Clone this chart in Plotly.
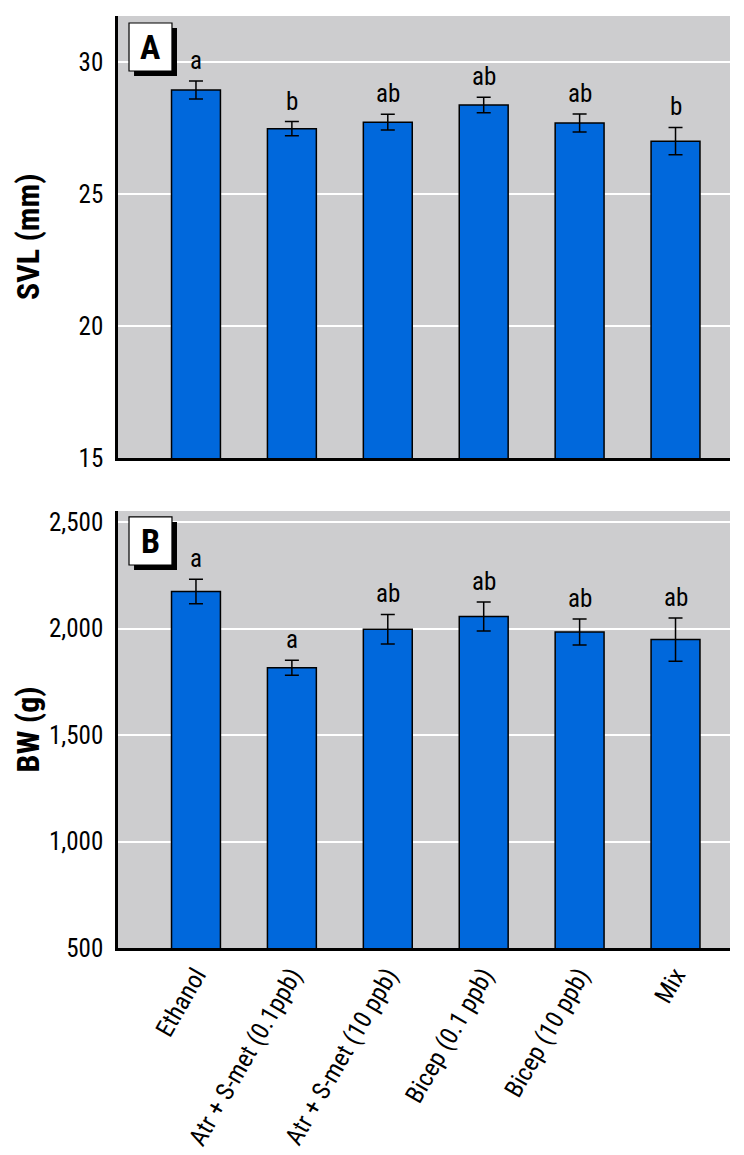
import plotly.graph_objects as go

categories = ["Ethanol", "Atr + S-met (0.1ppb)", "Atr + S-met (10 ppb)",
              "Bicep (0.1 ppb)", "Bicep (10 ppb)", "Mix"]
svl_mean = [28.94, 27.47, 27.72, 28.37, 27.69, 27.00]
svl_err = [0.34, 0.27, 0.30, 0.29, 0.34, 0.52]
svl_letters = ["a", "b", "ab", "ab", "ab", "b"]
bw_mean = [2174, 1816, 1997, 2057, 1984, 1948]
bw_err = [58, 35, 69, 68, 61, 101]
bw_letters = ["a", "a", "ab", "ab", "ab", "ab"]
svl_ticks = [15, 20, 25, 30]
bw_ticks = [500, 1000, 1500, 2000, 2500]
bw_ticktext = ["500", "1,000", "1,500", "2,000", "2,500"]

FONT = "Roboto Condensed, Open Sans Condensed, sans-serif"
BLUE = "#0068DC"
GREY = "#CDCDCF"

fig = go.Figure()
fig.add_trace(go.Bar(x=categories, y=svl_mean, xaxis="x", yaxis="y",
                     width=0.51, marker=dict(color=BLUE, line=dict(color="black", width=1.5)),
                     error_y=dict(type="data", array=svl_err, color="black", thickness=1.5, width=7),
                     showlegend=False))
fig.add_trace(go.Bar(x=categories, y=bw_mean, xaxis="x2", yaxis="y2",
                     width=0.51, marker=dict(color=BLUE, line=dict(color="black", width=1.5)),
                     error_y=dict(type="data", array=bw_err, color="black", thickness=1.5, width=7),
                     showlegend=False))

annotations = []
for c, m, e, t in zip(categories, svl_mean, svl_err, svl_letters):
    annotations.append(dict(x=c, y=m + e, xref="x", yref="y", text=t, showarrow=False,
                            yanchor="bottom", yshift=4, font=dict(family=FONT, size=25, color="black")))
for c, m, e, t in zip(categories, bw_mean, bw_err, bw_letters):
    annotations.append(dict(x=c, y=m + e, xref="x2", yref="y2", text=t, showarrow=False,
                            yanchor="bottom", yshift=4, font=dict(family=FONT, size=25, color="black")))

# axis titles
annotations.append(dict(x=-0.147, y=0.5, xref="paper", yref="y domain", text="<b>SVL (mm)</b>",
                        textangle=-90, showarrow=False, xanchor="center", yanchor="middle",
                        font=dict(family=FONT, size=32, color="black")))
annotations.append(dict(x=-0.147, y=0.5, xref="paper", yref="y2 domain", text="<b>BW (g)</b>",
                        textangle=-90, showarrow=False, xanchor="center", yanchor="middle",
                        font=dict(family=FONT, size=32, color="black")))

shapes = []
for xr, yr, ytop, ybot, sy, label in [("x domain", "y domain", 0.9842, 0.8756, 0.0113, "A"),
                                       ("x2 domain", "y2 domain", 0.9863, 0.8764, 0.0115, "B")]:
    shapes.append(dict(type="rect", xref=xr, yref=yr, x0=0.018 + 0.0082, x1=0.0882 + 0.0082,
                       y0=ybot - sy, y1=ytop - sy, fillcolor="black", line=dict(width=0), layer="above"))
    shapes.append(dict(type="rect", xref=xr, yref=yr, x0=0.018, x1=0.0882,
                       y0=ybot, y1=ytop, fillcolor="white", line=dict(color="black", width=1.2), layer="above"))
    annotations.append(dict(x=0.0531, y=(ytop + ybot) / 2, xref=xr, yref=yr, text="<b>%s</b>" % label,
                            showarrow=False, xanchor="center", yanchor="middle",
                            font=dict(family=FONT, size=34, color="black")))

xcommon = dict(type="category", range=[-0.813, 5.568], showgrid=False, zeroline=False,
               showline=True, linecolor="black", linewidth=2.5, ticks="", automargin=False)
ycommon = dict(showgrid=True, gridcolor="white", gridwidth=1.5, zeroline=False,
               showline=True, linecolor="black", linewidth=2.5, automargin=False,
               ticks="outside", ticklen=7, tickcolor="rgba(0,0,0,0)",
               tickfont=dict(family=FONT, size=25, color="black"))

# page body adds an 8px offset; figure sized so plot area lands where the reference has it
fig.update_layout(
    width=736, height=1147,
    margin=dict(l=110, r=14, t=8, b=207, autoexpand=False),
    paper_bgcolor="white", plot_bgcolor=GREY,
    bargap=0.5,
    xaxis=dict(**xcommon, anchor="y", domain=[0, 1], showticklabels=False),
    yaxis=dict(**ycommon, anchor="x", domain=[0.5258, 1], range=[15, 31.74], tickvals=svl_ticks),
    xaxis2=dict(**xcommon, anchor="y2", domain=[0, 1], tickangle=-60,
                tickfont=dict(family=FONT, size=25, color="black")),
    yaxis2=dict(**ycommon, anchor="x2", domain=[0, 0.4689], range=[500, 2552],
                tickvals=bw_ticks, ticktext=bw_ticktext),
    annotations=annotations, shapes=shapes,
    font=dict(family=FONT, color="black"),
)

fig.write_html("out.html")
